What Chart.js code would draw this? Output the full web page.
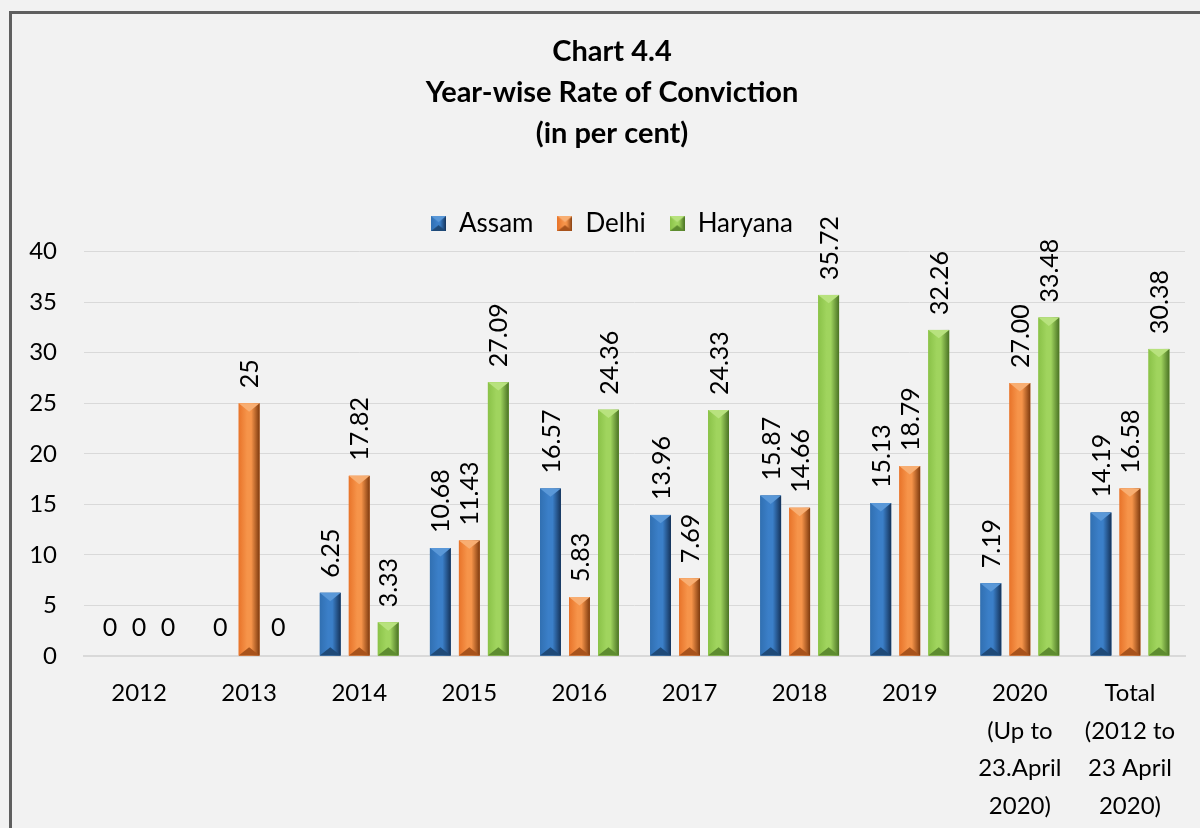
<!doctype html>
<html lang="en">
<head>
<meta charset="utf-8">
<title>Chart 4.4</title>
<script src="https://cdn.jsdelivr.net/npm/chart.js"></script>
<style>
  body { margin: 0; background: #f2f2f2; overflow: hidden; }
  #frame { position: absolute; left: 9px; top: 11px; width: 1300px; height: 900px;
           border-left: 3px solid #5f5f5f; border-top: 3px solid #5f5f5f; }
  #wrap { position: absolute; left: 0; top: 0; width: 1200px; height: 828px; }
</style>
</head>
<body>
<div id="frame"></div>
<div id="wrap"><canvas id="myChart" width="1200" height="828"></canvas></div>
<script>
// ---- data ----
const categories = ['2012', '2013', '2014', '2015', '2016', '2017', '2018', '2019',
  ['2020', '(Up to', '23.April', '2020)'], ['Total', '(2012 to', '23 April', '2020)']];
const seriesNames = ['Assam', 'Delhi', 'Haryana'];
const assam   = [0, 0, 6.25, 10.68, 16.57, 13.96, 15.87, 15.13, 7.19, 14.19];
const delhi   = [0, 25, 17.82, 11.43, 5.83, 7.69, 14.66, 18.79, 27.00, 16.58];
const haryana = [0, 0, 3.33, 27.09, 24.36, 24.33, 35.72, 32.26, 33.48, 30.38];
const assamLabels   = ['0', '0', '6.25', '10.68', '16.57', '13.96', '15.87', '15.13', '7.19', '14.19'];
const delhiLabels   = ['0', '25', '17.82', '11.43', '5.83', '7.69', '14.66', '18.79', '27.00', '16.58'];
const haryanaLabels = ['0', '0', '3.33', '27.09', '24.36', '24.33', '35.72', '32.26', '33.48', '30.38'];
const yTicks = [0, 5, 10, 15, 20, 25, 30, 35, 40];

const FONT = 'Lato, "Open Sans", sans-serif';

// bevel palettes: left edge, centre, right edge, top facet, bottom facet
const palettes = [
  { base: '#2e6aa8', l: '#3170b2', c: '#3b7fc8', r: '#15335a', top: '#5a98d8', bot: '#1f4a78' },
  { base: '#ed7d31', l: '#e8742a', c: '#f6944a', r: '#7e3a0e', top: '#f8ae72', bot: '#a8531c' },
  { base: '#8cc63f', l: '#8ac248', c: '#a0d45e', r: '#4a7324', top: '#b8e27e', bot: '#5e8c30' }
];
const allLabels = [assamLabels, delhiLabels, haryanaLabels];

function bevelFill(ctx, l, t, w, h, p) {
  const g = ctx.createLinearGradient(l, 0, l + w, 0);
  g.addColorStop(0, p.l);
  g.addColorStop(0.4, p.c);
  g.addColorStop(0.6, p.c);
  g.addColorStop(1, p.r);
  ctx.fillStyle = g;
  ctx.fillRect(l, t, w, h);
  const d = Math.min(w / 2, h / 2) * 0.8;
  ctx.fillStyle = p.top;
  ctx.beginPath();
  ctx.moveTo(l, t); ctx.lineTo(l + w, t); ctx.lineTo(l + w / 2, t + d); ctx.closePath();
  ctx.fill();
  ctx.fillStyle = p.bot;
  ctx.beginPath();
  ctx.moveTo(l, t + h); ctx.lineTo(l + w, t + h); ctx.lineTo(l + w / 2, t + h - d); ctx.closePath();
  ctx.fill();
}

function legendIcon(p) {
  const c = document.createElement('canvas');
  c.width = 15; c.height = 15;
  bevelFill(c.getContext('2d'), 0, 0, 15, 15, p);
  return c;
}

// draws the bevelled bars on top of the plain ones
const bevelPlugin = {
  id: 'bevel',
  afterDatasetsDraw(chart) {
    const ctx = chart.ctx;
    ctx.save();
    chart.data.datasets.forEach((ds, i) => {
      chart.getDatasetMeta(i).data.forEach((bar) => {
        const { x, y, base, width } = bar.getProps(['x', 'y', 'base', 'width'], true);
        const h = base - y;
        if (h <= 0) return;
        bevelFill(ctx, x - width / 2, y, width, h, palettes[i]);
      });
    });
    ctx.restore();
  }
};

// value labels: rotated above the bar, flat for zeros
const labelPlugin = {
  id: 'valueLabels',
  afterDatasetsDraw(chart) {
    const ctx = chart.ctx;
    ctx.save();
    ctx.font = '25px ' + FONT;
    ctx.fillStyle = '#000';
    chart.data.datasets.forEach((ds, i) => {
      chart.getDatasetMeta(i).data.forEach((bar, j) => {
        const { x, y } = bar.getProps(['x', 'y'], true);
        const txt = allLabels[i][j];
        if (ds.data[j] === 0) {
          ctx.textAlign = 'center';
          ctx.textBaseline = 'middle';
          ctx.fillText(txt, x, y - 28);
        } else {
          ctx.save();
          ctx.translate(x + 1, y - 15);
          ctx.rotate(-Math.PI / 2);
          ctx.textAlign = 'left';
          ctx.textBaseline = 'middle';
          ctx.fillText(txt, 0, 0);
          ctx.restore();
        }
      });
    });
    ctx.restore();
  }
};

// empty boxes: a gap under the legend and a strip on the right
const spacers = {
  id: 'spacers',
  beforeInit(chart) {
    Chart.layouts.addBox(chart, {
      position: 'top', weight: 0, fullSize: true, options: {},
      isHorizontal() { return true; },
      update(maxWidth) { this.width = maxWidth; this.height = 5; },
      draw() {}
    });
    Chart.layouts.addBox(chart, {
      position: 'right', weight: 0, fullSize: false, options: {},
      isHorizontal() { return false; },
      update(maxWidth, maxHeight) { this.width = 15; this.height = maxHeight; },
      draw() {}
    });
  }
};

const datasets = [assam, delhi, haryana].map((d, i) => ({
  label: seriesNames[i],
  data: d,
  backgroundColor: palettes[i].base,
  borderWidth: 0,
  pointStyle: legendIcon(palettes[i]),
  categoryPercentage: 0.79,
  barPercentage: 0.72
}));

new Chart(document.getElementById('myChart'), {
  type: 'bar',
  data: { labels: categories, datasets: datasets },
  plugins: [bevelPlugin, labelPlugin, spacers],
  options: {
    responsive: false,
    animation: false,
    layout: { padding: { left: 24, right: 0, top: 0, bottom: 0 } },
    plugins: {
      title: {
        display: true,
        text: ['Chart 4.4', 'Year-wise Rate of Conviction', '(in per cent)'],
        color: '#000',
        font: { family: FONT, size: 29, weight: 'bold', lineHeight: 1.41 },
        padding: { top: 31, bottom: 33 }
      },
      legend: {
        labels: {
          usePointStyle: true,
          boxWidth: 15,
          color: '#000',
          font: { family: FONT, size: 26 },
          padding: 24
        }
      },
      tooltip: { enabled: false }
    },
    scales: {
      x: {
        afterFit: (axis) => { axis.height = 172; },
        grid: { display: false, drawTicks: false },
        border: { color: '#d9d9d9', width: 2 },
        ticks: { color: '#000', font: { family: FONT, size: 24, lineHeight: 1.56 }, padding: 19, maxRotation: 0, autoSkip: false }
      },
      y: {
        min: 0, max: 40,
        afterFit: (axis) => { axis.width = 60; },
        afterBuildTicks: (axis) => { axis.ticks = yTicks.map(v => ({ value: v })); },
        grid: { color: '#d9d9d9', drawTicks: false },
        border: { display: false },
        ticks: { color: '#000', font: { family: FONT, size: 24 }, padding: 27 }
      }
    }
  }
});
</script>
</body>
</html>
